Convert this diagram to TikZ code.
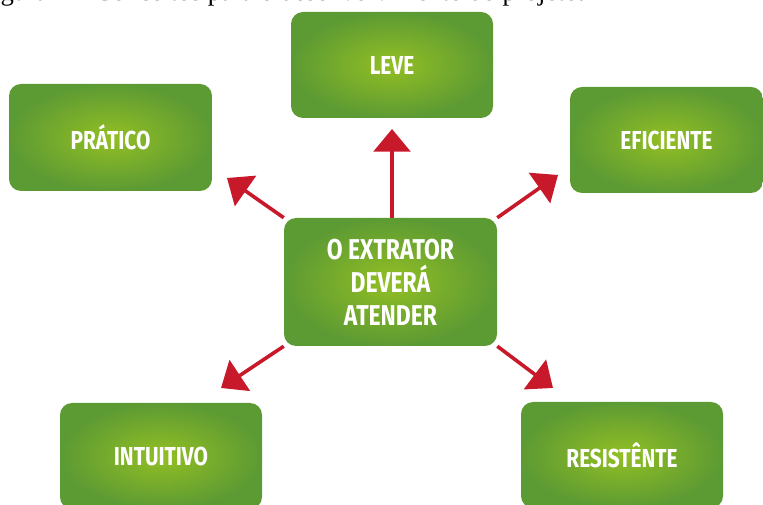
\documentclass[tikz,border=0pt]{standalone}
\usepackage{fontspec}
\setmainfont{Liberation Serif}
\newfontfamily\boxfont[FakeStretch=0.8]{Fira Sans}
\usetikzlibrary{arrows.meta,backgrounds}
\definecolor{gin}{HTML}{93BF24}
\definecolor{gout}{HTML}{5C9A33}
\definecolor{arrred}{HTML}{C8192A}
\tikzset{
  greenbox/.style={rectangle, rounded corners=9pt, inner color=gin, outer color=gout,
    text=white, font=\boxfont\bfseries\fontsize{19.5}{24}\selectfont,
    minimum width=202*0.75pt, minimum height=106*0.75pt, inner sep=0pt},
  centerbox/.style={greenbox, font=\boxfont\bfseries\fontsize{21.5}{24.75}\selectfont,
    minimum width=213*0.75pt, minimum height=128*0.75pt, align=center},
  redarrow/.style={draw=arrred, line width=2.7pt,
    -{Triangle[length=17pt,width=27.5pt]}, color=arrred}
}
\begin{document}
\begin{tikzpicture}[x=0.75pt,y=-0.75pt]
\useasboundingbox (0,0) rectangle (763,505);
\clip (0,0) rectangle (763,505);
% caption (cut off at the top)
\node[anchor=base west, inner sep=0pt, font=\fontsize{20}{24}\selectfont] (cap) at (-22,1)
  {Figura 1 -- Conceitos para o desenvolvimento do projeto.};
% boxes
\node[centerbox] (c) at (390.5,282) {O EXTRATOR\\DEVERÁ\\ATENDER};
\node[greenbox] (leve) at (392,65) {LEVE};
\node[greenbox, minimum width=203*0.75pt, minimum height=107*0.75pt] (prat) at (110.5,137.5) {PRÁTICO};
\node[greenbox, minimum width=193*0.75pt] (efic) at (666.5,140) {EFICIENTE};
\node[greenbox] (intu) at (161,456) {INTUITIVO};
\node[greenbox] (resi) at (622,455) {RESISTÊNTE};
% arrow tips
\coordinate (tleve) at (392,129);
\coordinate (tprat) at (227,178);
\coordinate (tefic) at (558,175);
\coordinate (tintu) at (221,388);
\coordinate (tresi) at (553,388);
\begin{pgfonlayer}{background}
\draw[redarrow] (c.north -| tleve) -- (tleve);
\draw[redarrow] (c.north west) -- (tprat);
\draw[redarrow] (c.north east) -- (tefic);
\draw[redarrow] (c.south west) -- (tintu);
\draw[redarrow] (c.south east) -- (tresi);
\end{pgfonlayer}
\end{tikzpicture}
\end{document}
